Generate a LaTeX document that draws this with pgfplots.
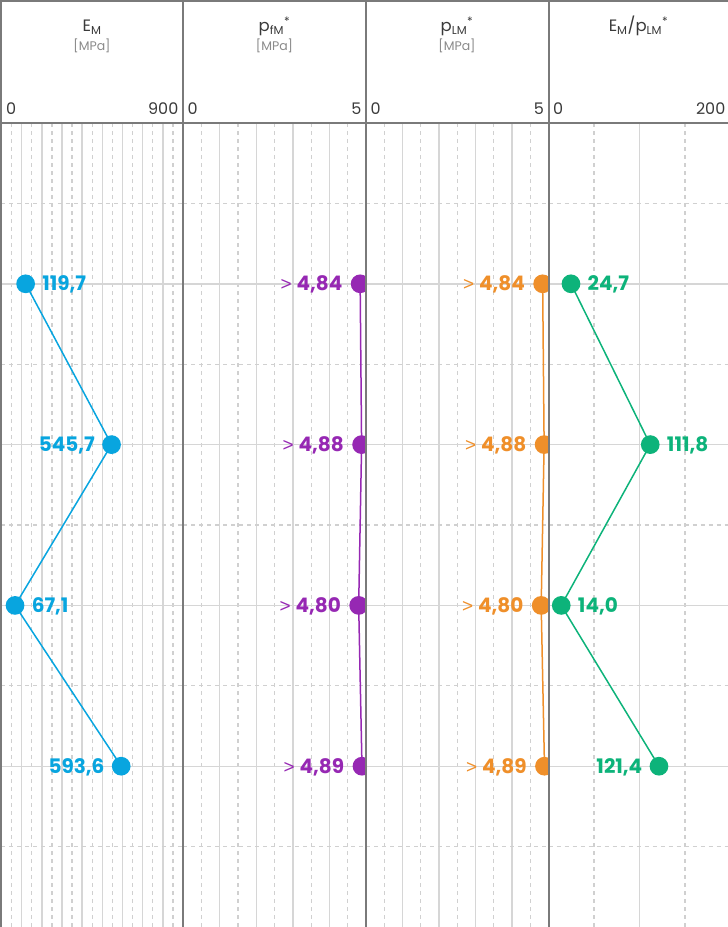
\documentclass[border=0pt]{standalone}
\usepackage{fontspec}
\setmainfont{Poppins}
\newfontfamily\gtfont{Liberation Sans}
\usepackage{pgfplots}
\pgfplotsset{compat=1.18}

\definecolor{cBlue}{HTML}{08A5DF}
\definecolor{cPurple}{HTML}{9628B3}
\definecolor{cOrange}{HTML}{EF8F2A}
\definecolor{cGreen}{HTML}{0DB37A}
\definecolor{gridc}{HTML}{D6D6D6}
\definecolor{gridd}{HTML}{D0D0D0}
\definecolor{sepc}{HTML}{7A7A7A}
\definecolor{titc}{HTML}{3A3A3A}
\definecolor{unitc}{HTML}{8A8A8A}

\pgfplotsset{
 panel/.style={
  scale only axis, height=804pt, ymin=0, ymax=5, y dir=reverse,
  axis line style={draw=none},
  ytick={1,2,3,4}, minor ytick={0.5,1.5,2.5,3.5,4.5},
  grid=both,
  major grid style={draw=gridc, line width=1.4pt},
  minor grid style={draw=gridd, line width=1.2pt, dash pattern=on 4pt off 4pt},
  major tick length=0pt, minor tick length=0pt,
  xticklabels={}, yticklabels={},
  clip marker paths=true,
  anchor=south west,
 },
 series/.style={
  color=#1, line width=1.5pt, mark=*, mark size=8.6pt,
  mark options={fill=#1, draw=none},
  nodes near coords, point meta=explicit symbolic,
  visualization depends on={value \thisrow{an}\as\an},
  visualization depends on={\thisrow{dx}\as\dx},
  every node near coord/.append style={anchor=base \an, xshift=\dx pt, yshift=-7pt,
    inner sep=0pt, font=\fontsize{20}{22}\selectfont\bfseries, text=#1},
 },
}

\newcommand{\gt}{{\gtfont\fontseries{m}\fontsize{19}{21}\selectfont >}\hspace{5pt}}

\begin{document}
\begin{tikzpicture}
\useasboundingbox (0,0) rectangle (728pt,927pt);

% Panel 1: E_M
\begin{axis}[panel, at={(1.5pt,0pt)}, width=181.5pt, xmin=0, xmax=900,
  xtick={100,200,...,800}, minor xtick={50,150,...,850}]
\addplot[series=cBlue] table[x=v, y=d, meta=lab] {
v d lab an dx
119.7 1 119,7 west 16
545.7 2 545,7 east -16
67.1 3 67,1 west 16
593.6 4 593,6 east -16
};
\end{axis}

% Panel 2: p_fM*
\begin{axis}[panel, at={(183pt,0pt)}, width=183pt, xmin=0, xmax=5,
  xtick={1,2,3,4}, minor xtick={0.5,1.5,2.5,3.5,4.5}]
\addplot[series=cPurple, nodes near coords={\gt\pgfplotspointmeta}] table[x=v, y=d, meta=lab] {
v d lab an dx
4.84 1 4,84 east -17
4.88 2 4,88 east -17
4.80 3 4,80 east -17
4.89 4 4,89 east -17
};
\end{axis}

% Panel 3: p_LM*
\begin{axis}[panel, at={(366pt,0pt)}, width=182.5pt, xmin=0, xmax=5,
  xtick={1,2,3,4}, minor xtick={0.5,1.5,2.5,3.5,4.5}]
\addplot[series=cOrange, nodes near coords={\gt\pgfplotspointmeta}] table[x=v, y=d, meta=lab] {
v d lab an dx
4.84 1 4,84 east -17
4.88 2 4,88 east -17
4.80 3 4,80 east -17
4.89 4 4,89 east -17
};
\end{axis}

% Panel 4: E_M/p_LM*
\begin{axis}[panel, at={(548.5pt,0pt)}, width=182pt, xmin=0, xmax=200,
  xtick={100}, minor xtick={50,150}]
\addplot[series=cGreen] table[x=v, y=d, meta=lab] {
v d lab an dx
24.7 1 24,7 west 16
111.8 2 111,8 west 16
14.0 3 14,0 west 16
121.4 4 121,4 east -16
};
\end{axis}

% frame and separators
\draw[sepc, line width=2pt] (0,926pt) -- (728pt,926pt);
\draw[sepc, line width=2pt] (1pt,0) -- (1pt,927pt);
\draw[sepc, line width=2pt] (0,804pt) -- (728pt,804pt);
\foreach \xx in {183,366,548.5} {
  \draw[sepc, line width=2pt] (\xx pt,0) -- (\xx pt,927pt);
}

% header titles
\def\tfont{\fontsize{16.5}{18}\selectfont}
\def\ufont{\fontsize{12.5}{15}\selectfont}
\def\kfont{\fontsize{16}{18}\selectfont}
\foreach \cx/\tt in {92/{E\textsubscript{M}}, 274.5/{p\textsubscript{fM}\textsuperscript{*}}, 457/{p\textsubscript{LM}\textsuperscript{*}}, 638.5/{E\textsubscript{M}/p\textsubscript{LM}\textsuperscript{*}}} {
  \node[anchor=base, inner sep=0pt, text=titc, font=\tfont] at (\cx pt, 895pt) {\tt};
}
\foreach \cx in {92,274.5,457} {
  \node[anchor=base, inner sep=0pt, text=unitc, font=\ufont] at (\cx pt, 876pt) {[MPa]};
}
% axis range labels
\foreach \lx/\rx/\rl in {1.5/183/900, 183/366/5, 366/548.5/5, 548.5/730/200} {
  \node[anchor=base west, inner sep=0pt, text=titc, font=\kfont] at (\lx pt+4.5pt, 812pt) {0};
  \node[anchor=base east, inner sep=0pt, text=titc, font=\kfont] at (\rx pt-4.5pt, 812pt) {\rl};
}
\end{tikzpicture}
\end{document}
